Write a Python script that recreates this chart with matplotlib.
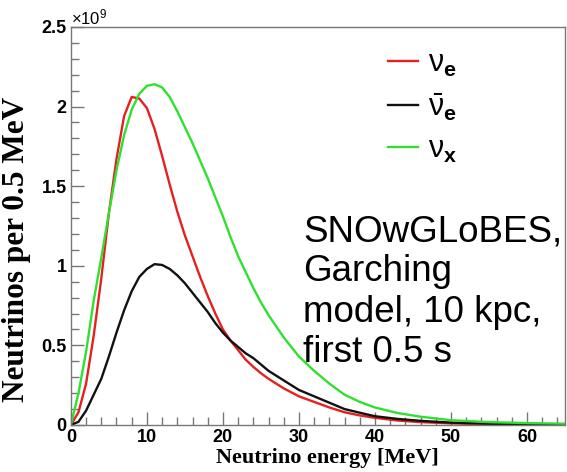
import numpy as np
import matplotlib
matplotlib.use("Agg")
import matplotlib.pyplot as plt
from matplotlib.ticker import MultipleLocator

# energies in MeV, fluxes in units of 1e9 neutrinos per 0.5 MeV
energy = [0, 1, 2, 3, 4, 5, 6, 7, 8, 9, 10, 11, 12, 13, 14, 15, 16, 17, 18,
          19, 20, 21, 22, 23, 24, 25, 26, 27, 28, 29, 30,
          32, 34, 36, 38, 40, 43, 46, 50, 55, 60, 65]
nu_e = [0, 0.08, 0.26, 0.56, 0.92, 1.33, 1.67, 1.94, 2.06, 2.05, 1.99, 1.86,
        1.69, 1.51, 1.34, 1.19, 1.06, 0.93, 0.81,
        0.70, 0.60, 0.53, 0.47, 0.41, 0.365, 0.325, 0.29, 0.26, 0.23, 0.205,
        0.18, 0.145, 0.11, 0.08, 0.06, 0.045, 0.028, 0.018, 0.01, 0.005,
        0.002, 0.001]
nu_e_bar = [0, 0.02, 0.09, 0.19, 0.29, 0.43, 0.58, 0.72, 0.84, 0.93, 0.98,
            1.01, 1.005, 0.98, 0.94, 0.89, 0.83, 0.77, 0.71,
            0.64, 0.58, 0.53, 0.49, 0.45, 0.42, 0.38, 0.34, 0.31, 0.28, 0.25,
            0.22, 0.18, 0.14, 0.10, 0.077, 0.055, 0.038, 0.026, 0.015, 0.008,
            0.004, 0.002]
nu_x = [0, 0.20, 0.46, 0.78, 1.05, 1.33, 1.60, 1.82, 1.98, 2.08, 2.13, 2.14,
        2.12, 2.06, 1.97, 1.87, 1.77, 1.66, 1.55,
        1.43, 1.31, 1.18, 1.06, 0.96, 0.86, 0.77, 0.69, 0.62, 0.55, 0.49,
        0.43, 0.34, 0.26, 0.19, 0.145, 0.11, 0.075, 0.052, 0.03, 0.018,
        0.012, 0.008]

labels = [r"$\nu_{\mathbf{e}}$", r"$\bar{\nu}_{\mathbf{e}}$", r"$\nu_{\mathbf{x}}$"]
colors = ["#e42020", "#111111", "#30e030"]

plt.rcParams["mathtext.fontset"] = "custom"
plt.rcParams["mathtext.rm"] = "Liberation Sans"
plt.rcParams["mathtext.bf"] = "Liberation Sans:bold"
plt.rcParams["mathtext.it"] = "Liberation Sans"

fig = plt.figure(figsize=(5.67, 4.72), dpi=100)
ax = fig.add_axes([0.125, 0.0996, 0.8715, 0.8434])

for y, lab, c in zip([nu_e, nu_e_bar, nu_x], labels, colors):
    ax.plot(energy, y, color=c, lw=1.7, label=lab)

ax.set_xlim(0, 65)
ax.set_ylim(0, 2.5)
ax.xaxis.set_major_locator(MultipleLocator(10))
ax.xaxis.set_minor_locator(MultipleLocator(2))
ax.yaxis.set_major_locator(MultipleLocator(0.5))
ax.yaxis.set_minor_locator(MultipleLocator(0.1))
ax.yaxis.set_major_formatter(lambda v, p: "%g" % v)
ax.tick_params(which="both", direction="in", color="#777777",
               top=False, right=False)
ax.tick_params(which="major", length=9.5, width=1)
ax.tick_params(which="minor", length=5.5, width=1)
for lbl in ax.get_xticklabels() + ax.get_yticklabels():
    lbl.set_fontfamily("Liberation Sans")
    lbl.set_fontweight("bold")
    lbl.set_fontsize(13)
ax.tick_params(axis="x", pad=3)
ax.tick_params(axis="y", pad=3)
for s in ax.spines.values():
    s.set_color("#777777")
    s.set_linewidth(1)

ax.set_xlabel("Neutrino energy [MeV]", family="Liberation Serif",
              weight="bold", fontsize=16)
ax.set_ylabel("Neutrinos per 0.5 MeV", family="Liberation Serif",
              weight="bold", fontsize=22.5)
ax.xaxis.set_label_coords(0.52, -0.058)
ax.yaxis.set_label_coords(-0.08, 0.44)

ax.text(0.0, 1.0, r"$\times\mathregular{10^{9}}$", transform=ax.transAxes,
        ha="left", va="bottom", fontsize=12, family="Liberation Sans")

leg = ax.legend(loc="upper left", bbox_to_anchor=(0.586, 1.015), frameon=False,
                fontsize=22, handlelength=1.0, handletextpad=0.3,
                labelspacing=0.40)

ax.text(0.47, 0.53, "SNOwGLoBES,\nGarching\nmodel, 10 kpc,\nfirst 0.5 s",
        transform=ax.transAxes, ha="left", va="top", fontsize=26.5,
        family="Liberation Sans", linespacing=1.2)

fig.savefig("out.png", dpi=100)
